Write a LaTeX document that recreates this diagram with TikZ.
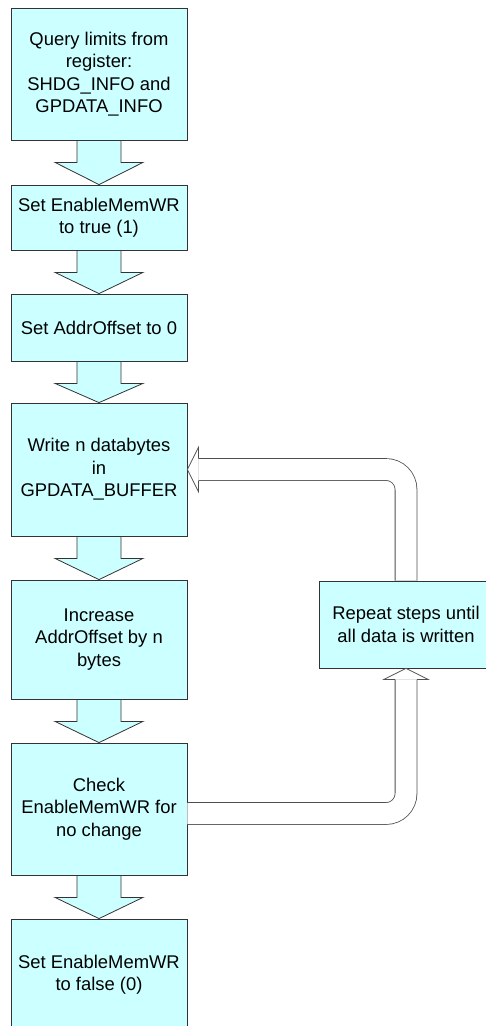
\documentclass[tikz,border=0pt]{standalone}
\usepackage{fontspec}
\setmainfont{Liberation Sans}
\usetikzlibrary{calc}
\definecolor{boxfill}{HTML}{CCFFFF}
\definecolor{edge}{HTML}{333333}
\definecolor{loopgray}{HTML}{505050}

\begin{document}
\begin{tikzpicture}[x=1pt, y=-1pt,
    stepbox/.style={draw=edge, fill=boxfill, line width=0.8pt, inner sep=0pt,
      minimum width=176pt, align=center, font=\fontsize{18.4}{22.5}\selectfont},
    looparrow/.style={draw=loopgray, line width=0.8pt, double=white,
      double distance=21pt, rounded corners=20pt}]
    \useasboundingbox (0,0) rectangle (486,1026);
    % steps of the flow
    \node[stepbox, minimum height=132pt] (q)   at (99,74)    {Query limits from\\register:\\SHDG\_INFO and\\GPDATA\_INFO};
    \node[stepbox, minimum height=65pt]  (en)  at (99,217.5) {Set EnableMemWR\\to true (1)};
    \node[stepbox, minimum height=67pt]  (ao)  at (99,327.5) {Set AddrOffset to 0};
    \node[stepbox, minimum height=133pt] (wr)  at (99,469.5) {Write n databytes\\in\\GPDATA\_BUFFER};
    \node[stepbox, minimum height=119pt] (inc) at (99,639.5) {Increase\\AddrOffset by n\\bytes};
    \node[stepbox, minimum height=132pt] (chk) at (99,809)   {Check\\EnableMemWR for\\no change};
    \node[stepbox, minimum height=111pt] (dis) at (99,974.5) {Set EnableMemWR\\to false (0)};
    \node[stepbox, minimum width=174pt, minimum height=87pt] (rep) at (406,624.5) {Repeat steps until\\all data is written};
    % block arrows down the column
    \foreach \a/\b in {q/en, en/ao, ao/wr, wr/inc, inc/chk, chk/dis}
      \draw[edge, fill=boxfill, line width=0.8pt]
        ($(\a.south)+(-22,0)$) -- ($(\a.south)+(-22,22)$) -- ($(\a.south)+(-44,22)$)
        -- (\b.north) -- ($(\a.south)+(44,22)$) -- ($(\a.south)+(22,22)$)
        -- ($(\a.south)+(22,0)$) -- cycle;
    % loop back: repeat box to write step
    \draw[looparrow] (rep.north) -- (rep.north |- wr.east) -- ($(wr.east)+(11,0)$);
    \fill[white] ($(wr.east)+(11,-22)$) -- (wr.east) -- ($(wr.east)+(11,22)$) -- cycle;
    \draw[loopgray, line width=0.8pt] ($(wr.east)+(11,-11)$) -- ($(wr.east)+(11,-22)$)
      -- (wr.east) -- ($(wr.east)+(11,22)$) -- ($(wr.east)+(11,11)$);
    % check step to repeat box
    \coordinate (chkout) at ($(chk.east)+(0,4.5)$);
    \draw[looparrow] (chkout) -- (chkout -| rep.south) -- ($(rep.south)+(0,11)$);
    \fill[white] ($(rep.south)+(-22,11)$) -- (rep.south) -- ($(rep.south)+(22,11)$) -- cycle;
    \draw[loopgray, line width=0.8pt] ($(rep.south)+(-11,11)$) -- ($(rep.south)+(-22,11)$)
      -- (rep.south) -- ($(rep.south)+(22,11)$) -- ($(rep.south)+(11,11)$);
  \end{tikzpicture}
\end{document}
